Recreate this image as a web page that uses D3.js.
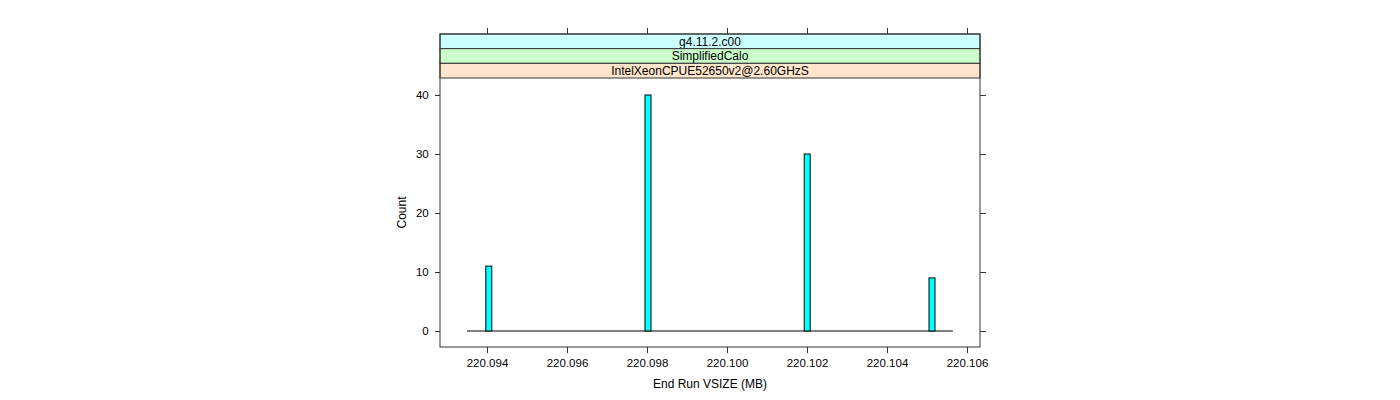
<!DOCTYPE html>
<html>
<head>
<meta charset="utf-8">
<script src="https://cdn.jsdelivr.net/npm/d3@7"></script>
<style>
  body { margin: 0; background: #fff; }
  text { font-family: "Liberation Sans", Arial, Helvetica, sans-serif; }
</style>
</head>
<body>
<svg id="chart" width="1400" height="400"></svg>
<script>
// ---- data ----
const stripLabels = ["g4.11.2.c00", "SimplifiedCalo", "IntelXeonCPUE52650v2@2.60GHzS"];
const stripColors = ["#CCFFFF", "#CCFFCC", "#FFE5CC"];
const binRange = [220.0935, 220.10565];          // histogram breaks extent
const binWidth = 0.00015;
const binLefts = [220.09397, 220.09795, 220.10193, 220.10505];
const binCounts = [11, 40, 30, 9];
const xTicks = [220.094, 220.096, 220.098, 220.100, 220.102, 220.104, 220.106];
const yTicks = [0, 10, 20, 30, 40];
const xDomain = [220.092825, 220.106325];
const yDomain = [-2.71, 42.88];

// ---- layout ----
const svg = d3.select("#chart");
const panel = { left: 440, right: 980, top: 78, bottom: 347 };
const stripH = 14.67;
const nStrips = stripLabels.length;

const x = d3.scaleLinear().domain(xDomain).range([panel.left, panel.right]);
const y = d3.scaleLinear().domain(yDomain).range([panel.bottom, panel.top]);

// strips (top-down: first label on top)
stripLabels.forEach((lab, i) => {
  const yTop = panel.top - stripH * (nStrips - i);
  svg.append("rect")
    .attr("x", panel.left).attr("y", yTop)
    .attr("width", panel.right - panel.left).attr("height", stripH)
    .attr("fill", stripColors[i]).attr("stroke", "#333").attr("stroke-width", 1);
  svg.append("text")
    .attr("x", (panel.left + panel.right) / 2).attr("y", yTop + stripH / 2 + 4.3)
    .attr("text-anchor", "middle").attr("font-size", 12).attr("fill", "#000")
    .text(lab);
});

// histogram: zero-height baseline across all bins
svg.append("line")
  .attr("x1", x(binRange[0])).attr("x2", x(binRange[1]))
  .attr("y1", y(0)).attr("y2", y(0))
  .attr("stroke", "#000").attr("stroke-width", 1);

svg.selectAll("rect.bar").data(binLefts).enter().append("rect")
  .attr("class", "bar")
  .attr("x", d => x(d))
  .attr("width", d => x(d + binWidth) - x(d))
  .attr("y", (d, i) => y(binCounts[i]))
  .attr("height", (d, i) => y(0) - y(binCounts[i]))
  .attr("fill", "#00FFFF").attr("stroke", "#000").attr("stroke-width", 1);

// panel border
svg.append("rect")
  .attr("x", panel.left).attr("y", panel.top - stripH * nStrips)
  .attr("width", panel.right - panel.left)
  .attr("height", panel.bottom - panel.top + stripH * nStrips)
  .attr("fill", "none").attr("stroke", "#333").attr("stroke-width", 1);

// axes
const fmtX = d3.format(".3f");
const bottomAxis = d3.axisBottom(x).tickValues(xTicks).tickFormat(fmtX).tickSize(6).tickPadding(5.5);
const topAxis = d3.axisTop(x).tickValues(xTicks).tickFormat("").tickSize(6);
const leftAxis = d3.axisLeft(y).tickValues(yTicks).tickSize(5).tickPadding(6.3);
const rightAxis = d3.axisRight(y).tickValues(yTicks).tickFormat("").tickSize(6);

function style(g) {
  g.select(".domain").remove();
  g.selectAll("line").attr("stroke", "#333");
  g.selectAll("text").attr("font-size", 11.5).attr("fill", "#000")
    .style("font-family", '"Liberation Sans", Arial, sans-serif');
}
svg.append("g").attr("transform", `translate(0,${panel.bottom})`).call(bottomAxis).call(style);
svg.append("g").attr("transform", `translate(0,${panel.top - stripH * nStrips})`).call(topAxis).call(style);
svg.append("g").attr("transform", `translate(${panel.left},0)`).call(leftAxis).call(style);
svg.append("g").attr("transform", `translate(${panel.right},0)`).call(rightAxis).call(style);

// axis titles
svg.append("text")
  .attr("x", (panel.left + panel.right) / 2).attr("y", 388)
  .attr("text-anchor", "middle").attr("font-size", 12).text("End Run VSIZE (MB)");
svg.append("text")
  .attr("transform", `translate(406,${(panel.top + panel.bottom) / 2}) rotate(-90)`)
  .attr("text-anchor", "middle").attr("font-size", 12).text("Count");
</script>
</body>
</html>
